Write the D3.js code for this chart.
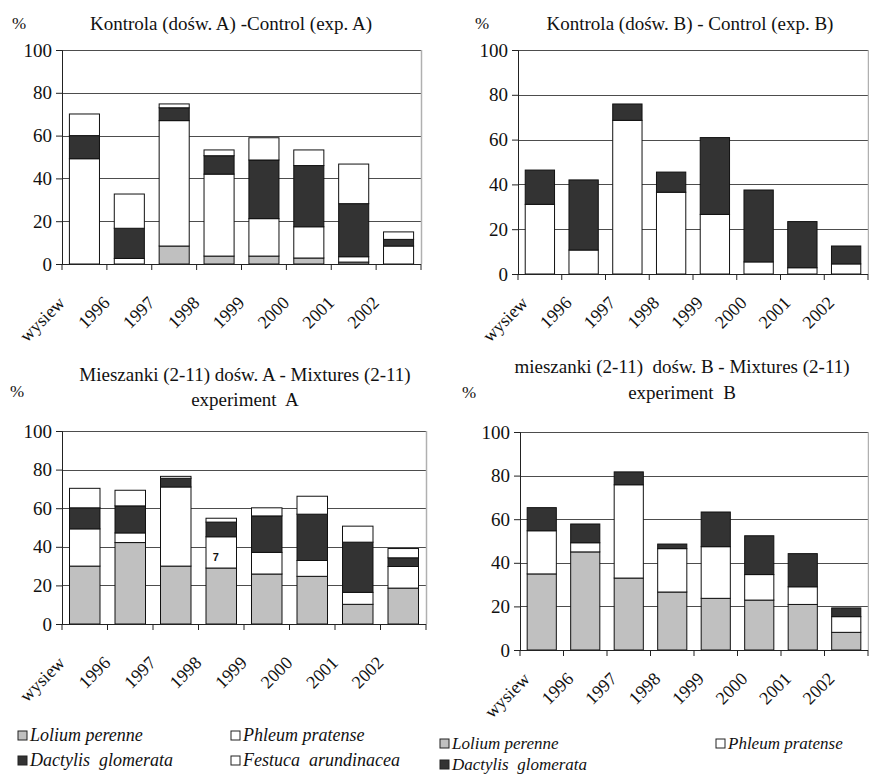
<!DOCTYPE html>
<html>
<head>
<meta charset="utf-8">
<script src="https://cdn.jsdelivr.net/npm/d3@7/dist/d3.min.js"></script>
<style>
  html, body { margin: 0; padding: 0; background: #fff; }
  svg { display: block; }
  svg text { font-family: "Liberation Serif", "Tinos", "Times New Roman", "DejaVu Serif", serif; fill: #111; }
</style>
</head>
<body>
<svg id="chart" width="869" height="774"></svg>
<script>
// Years of observation (first column = sowing)
const categories = ["wysiew", "1996", "1997", "1998", "1999", "2000", "2001", "2002"];
const yTicks = [0, 20, 40, 60, 80, 100];
const speciesNames = ["Lolium perenne", "Phleum pratense", "Dactylis  glomerata", "Festuca  arundinacea"];

// Control, experiment A (share in sward, %)
const ctrlA_lolium   = [0, 0, 8.4, 3.7, 3.7, 2.8, 0.9, 0];
const ctrlA_phleum   = [49.2, 2.6, 58.6, 38.3, 17.5, 14.6, 2.5, 8.4];
const ctrlA_dactylis = [10.8, 14.1, 6.0, 8.6, 27.4, 28.6, 24.8, 3.1];
const ctrlA_festuca  = [10.1, 16.0, 1.8, 2.7, 10.4, 7.3, 18.5, 3.5];

// Control, experiment B
const ctrlB_phleum   = [31.1, 10.7, 68.6, 36.5, 26.6, 5.4, 2.8, 4.5];
const ctrlB_dactylis = [15.3, 31.3, 7.3, 9.0, 34.3, 32.1, 20.6, 8.0];

// Mixtures (2-11), experiment A
const mixA_lolium   = [30.0, 42.2, 30.0, 29.0, 25.9, 24.7, 10.2, 18.6];
const mixA_phleum   = [19.3, 5.0, 41.0, 16.2, 11.2, 8.2, 6.2, 11.2];
const mixA_dactylis = [10.9, 14.0, 4.5, 7.6, 18.9, 24.0, 26.0, 4.5];
const mixA_festuca  = [10.1, 8.1, 1.0, 2.0, 4.2, 9.3, 8.3, 4.8];

// Mixtures (2-11), experiment B
const mixB_lolium   = [34.9, 45.0, 33.0, 26.6, 23.7, 22.9, 20.9, 8.1];
const mixB_phleum   = [19.8, 4.2, 42.8, 19.9, 23.7, 11.7, 8.1, 7.2];
const mixB_dactylis = [10.6, 8.6, 5.9, 2.1, 15.9, 17.8, 15.2, 4.0];

const fills = { lolium: "#c0c0c0", phleum: "#ffffff", dactylis: "#333333", festuca: "#ffffff" };
const SERIF = "Liberation Serif";

const svg = d3.select("#chart").attr("font-family", SERIF);

function panel(opt) {
  const g = svg.append("g");
  const x = d3.scaleBand().domain(categories).range([opt.x0, opt.x1])
    .paddingInner(0.33).paddingOuter(0.165);
  const xEdge = d3.scaleBand().domain(categories).range([opt.x0, opt.x1]).padding(0);
  const y = d3.scaleLinear().domain([0, 100]).range([opt.yBot, opt.yTop]);

  // gridlines
  g.append("g").selectAll("line").data(yTicks.filter(d => d > 0)).join("line")
    .attr("x1", opt.x0).attr("x2", opt.x1)
    .attr("y1", d => Math.round(y(d)) + 0.5).attr("y2", d => Math.round(y(d)) + 0.5)
    .attr("stroke", "#4d4d4d").attr("stroke-width", 1);
  // right frame
  g.append("line").attr("x1", opt.x1 + 0.5).attr("x2", opt.x1 + 0.5)
    .attr("y1", y(100)).attr("y2", y(0))
    .attr("stroke", "#b0b0b0").attr("stroke-width", 1.5);

  // stacked bars
  const keys = opt.series.map(s => s.key);
  const rows = categories.map((c, i) => {
    const r = { cat: c };
    opt.series.forEach(s => { r[s.key] = s.values[i]; });
    return r;
  });
  const stacked = d3.stack().keys(keys)(rows);
  g.append("g").selectAll("g").data(stacked).join("g")
    .attr("fill", d => fills[d.key])
    .selectAll("rect").data(d => d).join("rect")
    .attr("x", d => x(d.data.cat))
    .attr("width", x.bandwidth())
    .attr("y", d => y(d[1]))
    .attr("height", d => y(d[0]) - y(d[1]))
    .attr("stroke", "#111").attr("stroke-width", 1);

  // y axis
  const ya = g.append("g").attr("transform", `translate(${opt.x0},0)`)
    .call(d3.axisLeft(y).tickValues(yTicks).tickSize(6).tickPadding(4).tickFormat(d3.format("d")));
  ya.attr("font-family", SERIF);
  ya.select(".domain").attr("stroke", "#222");
  ya.selectAll(".tick line").attr("stroke", "#222");
  ya.selectAll("text").attr("font-size", 19).attr("font-family", SERIF).attr("fill", "#111");

  // x axis with ticks at category edges
  const xa = g.append("g").attr("transform", `translate(0,${opt.yBot})`);
  xa.append("line").attr("x1", opt.x0 - 6).attr("x2", opt.x1).attr("y1", 0.5).attr("y2", 0.5)
    .attr("stroke", "#222");
  const edges = categories.map(c => xEdge(c)).concat([opt.x1]);
  xa.selectAll("line.tk").data(edges).join("line").attr("class", "tk")
    .attr("x1", d => d).attr("x2", d => d).attr("y1", 0).attr("y2", 6)
    .attr("stroke", "#222");
  xa.selectAll("text").data(categories).join("text")
    .attr("text-anchor", "end")
    .attr("font-size", 18).attr("font-family", SERIF)
    .attr("transform", c => `translate(${xEdge(c) + opt.lx},${opt.ly}) rotate(-45)`)
    .text(c => c);

  // titles
  opt.title.forEach((t, i) => {
    g.append("text").attr("x", opt.tx).attr("y", opt.ty[i]).attr("text-anchor", "middle")
      .attr("font-size", 19).attr("font-family", SERIF).style("white-space", "pre").text(t);
  });
  g.append("text").attr("x", opt.px).attr("y", opt.py).attr("font-size", 17)
    .attr("font-family", SERIF).text("%");
  return { x, y, g };
}

panel({
  x0: 62, x1: 421, yTop: 50, yBot: 264, lx: 4, ly: 40,
  title: ["Kontrola (dośw. A) -Control (exp. A)"], tx: 231, ty: [30], px: 12, py: 29,
  series: [
    { key: "lolium", values: ctrlA_lolium },
    { key: "phleum", values: ctrlA_phleum },
    { key: "dactylis", values: ctrlA_dactylis },
    { key: "festuca", values: ctrlA_festuca }
  ]
});

panel({
  x0: 518, x1: 868, yTop: 50, yBot: 274, lx: 11, ly: 30,
  title: ["Kontrola (dośw. B) - Control (exp. B)"], tx: 690, ty: [30], px: 475, py: 29,
  series: [
    { key: "phleum", values: ctrlB_phleum },
    { key: "dactylis", values: ctrlB_dactylis }
  ]
});

const pC = panel({
  x0: 62, x1: 426, yTop: 431, yBot: 624, lx: 4, ly: 40,
  title: ["Mieszanki (2-11) dośw. A - Mixtures (2-11)", "experiment  A"], tx: 245, ty: [381, 406],
  px: 10, py: 397,
  series: [
    { key: "lolium", values: mixA_lolium },
    { key: "phleum", values: mixA_phleum },
    { key: "dactylis", values: mixA_dactylis },
    { key: "festuca", values: mixA_festuca }
  ]
});
// small handwritten note inside the 1998 bar
pC.g.append("text")
  .attr("x", pC.x("1998") + pC.x.bandwidth() * 0.22)
  .attr("y", pC.y(mixA_lolium[3]) - 7)
  .attr("font-weight", "bold")
  .style("font-family", "'Liberation Sans', sans-serif")
  .attr("font-size", 11).attr("fill", "#222").text("7");

panel({
  x0: 520, x1: 868, yTop: 432, yBot: 650, lx: 11, ly: 30,
  title: ["mieszanki (2-11)  dośw. B - Mixtures (2-11)", "experiment  B"], tx: 682, ty: [373, 399],
  px: 462, py: 398,
  series: [
    { key: "lolium", values: mixB_lolium },
    { key: "phleum", values: mixB_phleum },
    { key: "dactylis", values: mixB_dactylis }
  ]
});

// legends
const defs = svg.append("defs");
defs.append("clipPath").attr("id", "legA").append("rect")
  .attr("x", 0).attr("y", 700).attr("width", 433).attr("height", 74);

function legendItem(parent, key, label, x, yBase, size) {
  parent.append("rect").attr("x", x).attr("y", yBase - 10).attr("width", 9).attr("height", 9)
    .attr("fill", fills[key]).attr("stroke", "#222").attr("stroke-width", 1);
  parent.append("text").attr("x", x + 12).attr("y", yBase)
    .attr("font-size", size).attr("font-style", "italic").attr("font-family", SERIF)
    .style("white-space", "pre").text(label);
}

const legA = svg.append("g").attr("clip-path", "url(#legA)");
legendItem(legA, "lolium", speciesNames[0], 18, 741, 18);
legendItem(legA, "phleum", speciesNames[1], 231, 741, 18);
legendItem(legA, "dactylis", speciesNames[2], 18, 766, 18);
legendItem(legA, "festuca", speciesNames[3], 231, 766, 18);

const legB = svg.append("g");
legendItem(legB, "lolium", speciesNames[0], 440, 749, 17);
legendItem(legB, "phleum", speciesNames[1], 716, 749, 17);
legendItem(legB, "dactylis", speciesNames[2], 440, 770, 17);
</script>
</body>
</html>
